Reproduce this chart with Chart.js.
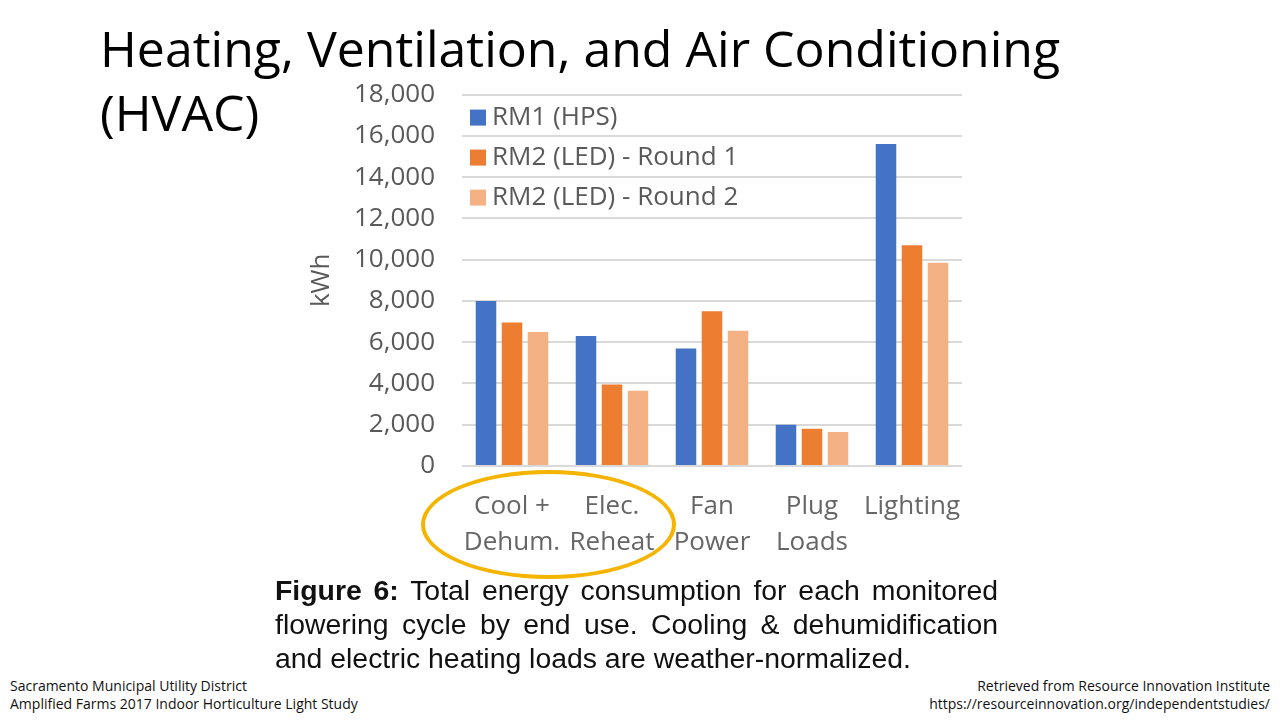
<!DOCTYPE html>
<html>
<head>
<meta charset="utf-8">
<script src="https://cdn.jsdelivr.net/npm/chart.js@4/dist/chart.umd.min.js"></script>
<style>
    body { margin: 0; width: 1280px; height: 720px; background: #fff; position: relative; overflow: hidden; font-family: "Open Sans", sans-serif; }
    .title { position: absolute; left: 100px; top: 16px; font-size: 50px; line-height: 64px; color: #000; }
    #chartBox { position: absolute; left: 300px; top: 52px; width: 680px; height: 513px; }
    .ring { position: absolute; left: 421px; top: 470px; width: 247px; height: 101px; border: 4px solid #f4b400; border-radius: 50%; }
    .caption { position: absolute; left: 275px; top: 573px; width: 723px; font-family: "Liberation Sans Narrow", "Liberation Sans", sans-serif; font-size: 28.4px; line-height: 34px; color: #111; white-space: nowrap; }
    .caption div { text-align: justify; text-align-last: justify; }
    .caption div.last { text-align-last: left; }
    .foot { position: absolute; top: 677px; font-size: 14px; line-height: 18px; color: #111; }
</style>
</head>
<body>
<div class="title">Heating, Ventilation, and Air Conditioning<br>(HVAC)</div>
<div id="chartBox"><canvas id="hvac-chart"></canvas></div>
<div class="ring"></div>
<div class="caption">
    <div><b>Figure 6:</b> Total energy consumption for each monitored</div>
    <div>flowering cycle by end use. Cooling &amp; dehumidification</div>
    <div class="last">and electric heating loads are weather-normalized.</div>
</div>
<div class="foot" style="left:10px;">Sacramento Municipal Utility District<br>Amplified Farms 2017 Indoor Horticulture Light Study</div>
<div class="foot" style="right:10px; text-align:right;">Retrieved from Resource Innovation Institute<br>https://resourceinnovation.org/independentstudies/</div>

<script>
const endUses = [["Cool +", "Dehum."], ["Elec.", "Reheat"], ["Fan", "Power"], ["Plug", "Loads"], ["Lighting"]];
const seriesNames = ["RM1 (HPS)", "RM2 (LED) - Round 1", "RM2 (LED) - Round 2"];
const rm1Hps = [8000, 6300, 5700, 2000, 15600];
const rm2Round1 = [6950, 3950, 7500, 1800, 10700];
const rm2Round2 = [6500, 3650, 6550, 1650, 9850];
const seriesColors = ['#4472c4', '#ed7d31', '#f4b183'];

const tickFont = { family: 'Open Sans', size: 26 };

// legend sits inside the plot area, top left
const insideLegend = {
    id: 'insideLegend',
    afterDraw(chart) {
        const ctx = chart.ctx;
        const area = chart.chartArea;
        ctx.save();
        ctx.font = '26px "Open Sans"';
        ctx.textBaseline = 'middle';
        chart.data.datasets.forEach((ds, i) => {
            const x = area.left + 8;
            const y = area.top + 23 + i * 40;
            ctx.fillStyle = ds.backgroundColor;
            ctx.fillRect(x, y - 8, 16, 16);
            ctx.fillStyle = '#595959';
            ctx.fillText(ds.label, x + 22, y);
        });
        ctx.restore();
    }
};

function buildDatasets() {
    const values = [rm1Hps, rm2Round1, rm2Round2];
    return values.map((data, i) => ({
        label: seriesNames[i],
        data: data,
        backgroundColor: seriesColors[i],
        categoryPercentage: 0.78,
        barPercentage: 0.79
    }));
}

function createChart() {
    const ctx = document.getElementById('hvac-chart').getContext('2d');
    new Chart(ctx, {
        type: 'bar',
        data: { labels: endUses, datasets: buildDatasets() },
        plugins: [insideLegend],
        options: {
            responsive: true,
            maintainAspectRatio: false,
            animation: false,
            layout: { padding: { top: 18, right: 18 } },
            plugins: {
                legend: { display: false },
                tooltip: { enabled: false }
            },
            scales: {
                x: {
                    grid: { display: false },
                    border: { display: false },
                    ticks: { color: '#666', font: { ...tickFont, lineHeight: 1.385 }, padding: 15, maxRotation: 0, autoSkip: false },
                    afterFit(scale) { scale.height = 99; }
                },
                y: {
                    min: 0,
                    max: 18000,
                    ticks: {
                        stepSize: 2000,
                        color: '#595959',
                        font: tickFont,
                        padding: 27,
                        callback: v => v.toLocaleString('en-US')
                    },
                    grid: { color: '#d9d9d9', lineWidth: 2, drawTicks: false },
                    border: { display: false },
                    title: { display: true, text: 'kWh', color: '#595959', font: { family: 'Open Sans', size: 26 }, padding: { top: 6, bottom: 0 } },
                    afterFit(scale) { scale.width = 162; }
                }
            }
        }
    });
}

document.addEventListener('DOMContentLoaded', createChart);
</script>
</body>
</html>
